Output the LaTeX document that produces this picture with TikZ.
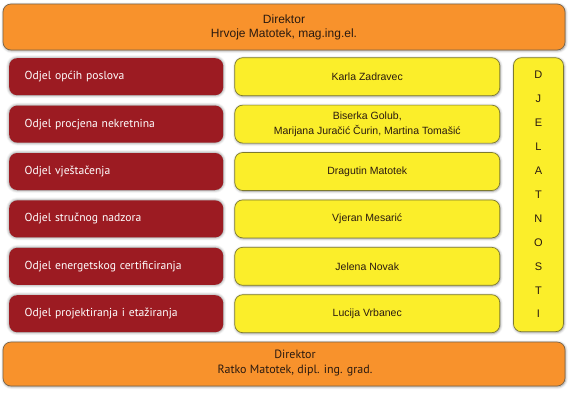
\documentclass[tikz,border=0pt]{standalone}
\usepackage{fontspec}
\setmainfont{Liberation Sans}
\newfontfamily\odjelfont{PT Sans}
\usetikzlibrary{positioning,shadows.blur}
\definecolor{narancasta}{HTML}{F8922C}
\definecolor{crvena}{HTML}{9C1B22}
\definecolor{zuta}{HTML}{FBEE2A}
\definecolor{rubnar}{HTML}{7A6448}
\definecolor{rubzut}{HTML}{7D7A2E}
\definecolor{tekst}{HTML}{2A1A10}

\begin{document}
\begin{tikzpicture}[x=1pt,y=-1pt,node distance=10pt and 11pt,
  sjena/.style={blur shadow={shadow xshift=0.6pt,shadow yshift=-0.8pt,shadow blur radius=2.5pt,shadow opacity=45}},
  dir/.style={draw=rubnar,line width=0.7pt,fill=narancasta,rounded corners=8pt,
    minimum width=562pt,align=center,text=tekst,sjena},
  odjel/.style={fill=crvena,rounded corners=8pt,text width=183pt,inner xsep=15.5pt,
    minimum height=37pt,align=left,text=white,font=\odjelfont\fontsize{11.6}{13}\selectfont,
    blur shadow={shadow xshift=0pt,shadow yshift=0pt,shadow blur radius=3pt,shadow opacity=55}},
  osoba/.style={draw=rubzut,line width=0.7pt,fill=zuta,rounded corners=8pt,minimum width=265pt,
    minimum height=38pt,inner ysep=2pt,align=center,text=tekst,font=\fontsize{10.5}{14.5}\selectfont,sjena}]
\useasboundingbox (0,0) rectangle (570,400);

% direktori
\node[dir,minimum height=46pt,font=\fontsize{12}{14}\selectfont] (dirgore) at (284,27)
  {Direktor\\Hrvoje Matotek, mag.ing.el.};
\node[dir,minimum height=44pt] (dirdolje) at (284,364) {};
\node[align=center,text=tekst,font=\odjelfont\fontsize{12}{15}\selectfont] (dirdoljetekst)
  at ([xshift=11pt,yshift=0.5pt]dirdolje.center) {Direktor\\Ratko Matotek, dipl. ing. grad.};

% odjeli
\node[odjel,anchor=north west] (odjel1) at (9,58) {Odjel općih poslova};
\node[odjel,below=10pt of odjel1] (odjel2) {Odjel procjena nekretnina};
\node[odjel,below=10pt of odjel2] (odjel3) {Odjel vještačenja};
\node[odjel,below=10pt of odjel3] (odjel4) {Odjel stručnog nadzora};
\node[odjel,below=10pt of odjel4] (odjel5) {Odjel energetskog certificiranja};
\node[odjel,below=10pt of odjel5] (odjel6) {Odjel projektiranja i etažiranja};

% voditelji
\node[osoba,right=11pt of odjel1] (osoba1) {Karla Zadravec};
\node[osoba,right=11pt of odjel2] (osoba2) {Biserka Golub,\\Marijana Juračić Čurin, Martina Tomašić};
\node[osoba,right=11pt of odjel3] (osoba3) {Dragutin Matotek};
\node[osoba,right=11pt of odjel4] (osoba4) {Vjeran Mesarić};
\node[osoba,right=11pt of odjel5] (osoba5) {Jelena Novak};
\node[osoba,right=11pt of odjel6] (osoba6) {Lucija Vrbanec};

% djelatnosti
\node[osoba,anchor=north west,minimum width=50pt,minimum height=274pt,
  font=\fontsize{11}{23.9}\selectfont] (djel) at ([xshift=13pt]osoba1.north east)
  {D\\J\\E\\L\\A\\T\\N\\O\\S\\T\\I};
\end{tikzpicture}
\end{document}
